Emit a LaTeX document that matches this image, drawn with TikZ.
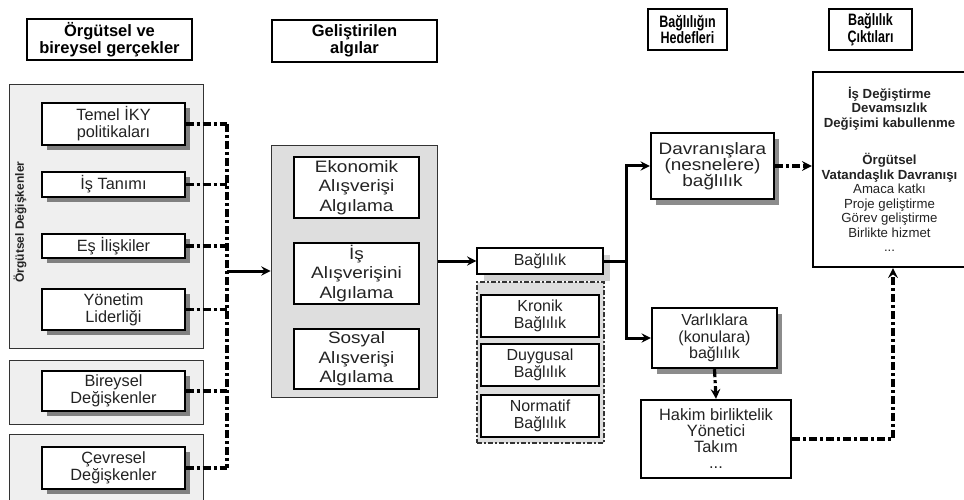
\documentclass[tikz,border=0pt]{standalone}
\usepackage{fontspec}
\setmainfont{Liberation Sans}
\newfontfamily\widefont{Liberation Sans}[FakeStretch=1.15]
\newfontfamily\narrowfont{Liberation Sans}[FakeStretch=0.76]
\usepackage{tikz}
\usetikzlibrary{shadows}
\usetikzlibrary{positioning}
\definecolor{lightgrey}{RGB}{239 239 239}
\definecolor{midgrey}{RGB}{222 222 222}
\definecolor{textgrey}{RGB}{35 35 35}
\tikzstyle{headerbox} = [rectangle, draw=black, line width=1.4pt, inner sep=0pt, align=center, font=\bfseries\fontsize{16.5}{16.7}\selectfont]
\tikzstyle{smallheader} = [headerbox, font=\narrowfont\bfseries\fontsize{16.5}{16.7}\selectfont]
\tikzstyle{groupbox} = [rectangle, draw=black!80, line width=1pt, inner sep=0pt, fill=lightgrey]
\tikzstyle{varbox} = [rectangle, draw=black, line width=1.4pt, fill=white, inner sep=0pt, align=center, text=textgrey, font=\fontsize{16.3}{17}\selectfont, minimum width=143pt, drop shadow={shadow xshift=5pt, shadow yshift=-5pt, fill=black!50, opacity=1}]
\tikzstyle{percbox} = [rectangle, draw=black, line width=1.4pt, fill=white, inner sep=0pt, align=center, text=textgrey, font=\widefont\fontsize{16.5}{19.5}\selectfont, minimum width=125pt]
\tikzstyle{commitbox} = [rectangle, draw=black, line width=1.4pt, fill=white, inner sep=0pt, align=center, text=textgrey, font=\fontsize{16}{16.7}\selectfont, minimum width=118pt, minimum height=42pt]
\tikzstyle{targetbox} = [rectangle, draw=black, line width=2.4pt, fill=white, inner sep=0pt, align=center, text=textgrey, font=\fontsize{16}{16.5}\selectfont, drop shadow={shadow xshift=5pt, shadow yshift=-6pt, fill=black!45, opacity=1}]
\tikzstyle{arrow} = [line width=3pt,->,>=stealth]
\tikzstyle{connline} = [line width=3pt]
\tikzstyle{dashdot} = [line width=3.2pt, dash pattern=on 8pt off 3pt on 3pt off 3pt]
\begin{document}
\begin{tikzpicture}[x=1pt, y=-1pt]
    \useasboundingbox (0,0) rectangle (964,500);
    % headers
    \node (hreal) [headerbox, minimum width=165pt, minimum height=41pt] at (109.5,39.5) {Örgütsel ve\\bireysel gerçekler};
    \node (hperc) [headerbox, minimum width=165pt, minimum height=42pt] at (354.5,41) {Geliştirilen\\algılar};
    \node (htarget) [smallheader, minimum width=79pt, minimum height=41pt] at (687.5,29.5) {Bağlılığın\\Hedefleri};
    \node (hout) [smallheader, minimum width=83pt, minimum height=41pt] at (870.5,29.5) {Bağlılık\\Çıktıları};
    % left column
    \node (orggroup) [groupbox, minimum width=194pt, minimum height=263pt] at (106,216.5) {};
    \node (orglabel) [rotate=90, font=\bfseries\fontsize{12}{12}\selectfont, text=textgrey] at (20,222) {Örgütsel Değişkenler};
    \node (temel) [varbox, minimum height=42pt] at (113.5,124) {Temel İKY\\politikaları};
    \node (tanim) [varbox, minimum height=25pt] at (113.5,184.5) {İş Tanımı};
    \node (es) [varbox, minimum height=24pt] at (113.5,246) {Eş İlişkiler};
    \node (yonetim) [varbox, minimum height=41pt] at (113.5,309.5) {Yönetim\\Liderliği};
    \node (bgroup) [groupbox, minimum width=194pt, minimum height=64pt] at (106,392) {};
    \node (bireysel) [varbox, minimum height=40pt] at (113.5,391) {Bireysel\\Değişkenler};
    \node (cgroup) [groupbox, minimum width=194pt, minimum height=76pt] at (106,472) {};
    \node (cevresel) [varbox, minimum height=42pt] at (113.5,468) {Çevresel\\Değişkenler};
    \coordinate (ctop) at (227,124);
    \coordinate (cbot) at (227,468);
    \coordinate (cmid) at (227,271);
    \foreach \n in {temel, tanim, es, yonetim, bireysel, cevresel}
        \draw [dashdot] (\n.east) -- (\n.east -| ctop);
    \draw [dashdot] (ctop) -- (cbot);
    % middle column
    \node (percgroup) [groupbox, fill=midgrey, minimum width=166pt, minimum height=251pt] at (354,271.5) {};
    \node (eko) [percbox, minimum height=61pt] at (356.5,187.5) {Ekonomik\\Alışverişi\\Algılama};
    \node (isp) [percbox, minimum height=61pt] at (356.5,273.5) {İş\\Alışverişini\\Algılama};
    \node (sos) [percbox, minimum height=60pt] at (356.5,359) {Sosyal\\Alışverişi\\Algılama};
    \draw [arrow] (cmid) -- (cmid -| percgroup.west);
    % commitment
    \node (bag) [commitbox, minimum width=126pt, minimum height=26pt, drop shadow={shadow xshift=7pt, shadow yshift=-7pt, fill=black!18, opacity=1}] at (540,261) {Bağlılık};
    \node (baggroup) [groupbox, fill=midgrey, dashdot, line width=1.6pt, dash pattern=on 5pt off 2pt on 2pt off 2pt, minimum width=127pt, minimum height=161pt] at (540.5,362.5) {};
    \node (kronik) [commitbox] at (540,316) {Kronik\\Bağlılık};
    \node (duygusal) [commitbox] at (540,365) {Duygusal\\Bağlılık};
    \node (normatif) [commitbox] at (540,416) {Normatif\\Bağlılık};
    \draw [arrow] (percgroup.east |- bag.west) -- (bag.west);
    % targets
    \node (davr) [targetbox, font=\widefont\fontsize{16.5}{16}\selectfont, minimum width=123pt, minimum height=66pt] at (712.5,166) {Davranışlara\\(nesnelere)\\bağlılık};
    \node (varl) [targetbox, minimum width=125pt, minimum height=60pt] at (714.5,338) {Varlıklara\\(konulara)\\bağlılık};
    \node (hakim) [rectangle, draw=black, line width=2.4pt, inner sep=0pt, align=center, text=textgrey, font=\fontsize{16.4}{16}\selectfont, minimum width=150pt, minimum height=78pt] at (716,439) {Hakim birliktelik\\Yönetici\\Takım\\...};
    \coordinate (split) at (626,261);
    \draw [connline] (bag.east) -- (split);
    \draw [arrow] (split) |- (davr.west);
    \draw [arrow] (split) |- (varl.west);
    \draw [dashdot, ->, >=stealth] (varl.south) -- (hakim.north);
    % outcomes
    \node (out) [rectangle, draw=black, line width=2.4pt, inner sep=0pt, align=center, text=textgrey, minimum width=153pt, minimum height=195pt, font=\fontsize{13.2}{14.5}\selectfont] at (889.5,169.5) {\textbf{İş Değiştirme}\\\textbf{Devamsızlık}\\\textbf{Değişimi kabullenme}\\[23pt]\textbf{Örgütsel}\\\textbf{Vatandaşlık Davranışı}\\Amaca katkı\\Proje geliştirme\\Görev geliştirme\\Birlikte hizmet\\...};
    \draw [dashdot, ->, >=stealth] (davr.east) -- (davr.east -| out.west);
    \coordinate (ret) at (893,439);
    \draw [dashdot, ->, >=stealth] (hakim.east) -- (ret) -- (ret |- out.south);
\end{tikzpicture}
\end{document}
